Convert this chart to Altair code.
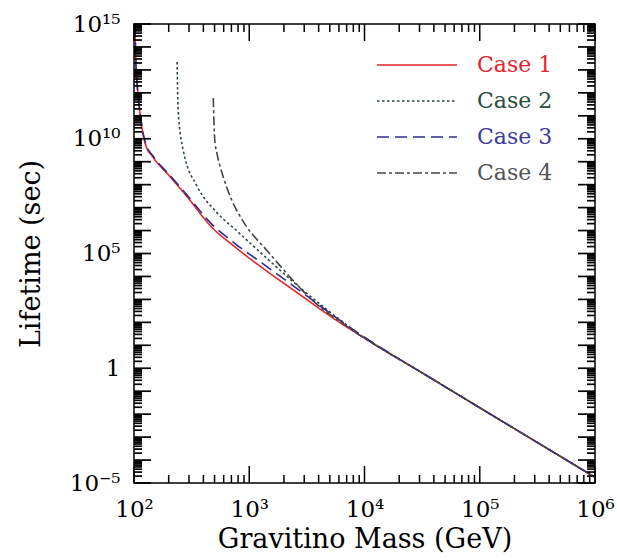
import altair as alt
import pandas as pd

# ---------------- data (log10 values) ----------------
cases = ["Case 1", "Case 2", "Case 3", "Case 4"]
line_colors = ["#e4262c", "#2d4a42", "#2e2e8e", "#454545"]
label_colors = ["#e4262c", "#2a4d40", "#3b3ba0", "#555555"]
dash_patterns = [[1, 0], [2.5, 2.5], [12, 6], [9, 3, 3, 3]]

case1_logm = [2.008, 2.015, 2.03, 2.05, 2.075, 2.10, 2.165, 2.313, 2.46, 2.67, 2.86, 3.12, 3.42, 3.70, 3.99, 4.5, 5.0, 6.0]
case1_logt = [15.0, 13.5, 12.2, 11.2, 10.3, 9.75, 9.2, 8.35, 7.48, 6.17, 5.35, 4.35, 3.28, 2.28, 1.34, -0.2, -1.72, -4.75]

case2_logm = [2.374, 2.383, 2.426, 2.55, 2.72, 2.90, 3.15, 3.42, 3.70, 3.95, 4.1, 4.5, 5.0, 6.0]
case2_logt = [13.35, 11.26, 9.52, 7.91, 6.78, 5.95, 4.80, 3.60, 2.45, 1.50, 1.0, -0.2, -1.72, -4.75]

case3_logm = [2.008, 2.015, 2.03, 2.05, 2.075, 2.10, 2.165, 2.313, 2.46, 2.67, 2.86, 3.12, 3.42, 3.70, 4.0, 4.5, 5.0, 6.0]
case3_logt = [15.0, 13.5, 12.2, 11.25, 10.35, 9.8, 9.25, 8.40, 7.55, 6.30, 5.50, 4.55, 3.45, 2.40, 1.35, -0.2, -1.72, -4.75]

case4_logm = [2.688, 2.70, 2.72, 2.75, 2.80, 2.85, 2.90, 2.98, 3.15, 3.27, 3.45, 3.62, 3.80, 3.94, 4.1, 4.5, 5.0, 6.0]
case4_logt = [11.77, 10.0, 9.35, 8.75, 7.95, 7.3, 6.8, 6.15, 5.15, 4.45, 3.45, 2.65, 2.0, 1.5, 1.0, -0.2, -1.72, -4.75]

x_label_exps = [2, 3, 4, 5, 6]
x_labels = ["10²", "10³", "10⁴", "10⁵", "10⁶"]
y_label_exps = [-5, 0, 5, 10, 15]
y_labels = ["10⁻⁵", "1", "10⁵", "10¹⁰", "10¹⁵"]

x_title = "Gravitino Mass (GeV)"
y_title = "Lifetime (sec)"

# ---------------- build tables ----------------
rows = []
for name, lm, lt in zip(cases,
                        [case1_logm, case2_logm, case3_logm, case4_logm],
                        [case1_logt, case2_logt, case3_logt, case4_logt]):
    for i, (a, b) in enumerate(zip(lm, lt)):
        rows.append({"case": name, "mass": 10 ** a, "tau": 10 ** b, "i": i})
df = pd.DataFrame(rows)

# log tick positions: decades (major) and 2..9 x 10^n (minor)
x_major = [10 ** n for n in range(2, 7)]
x_minor = [k * 10 ** n for n in range(2, 6) for k in range(2, 10)]
y_major = [10.0 ** n for n in range(-5, 16)]
y_minor = [k * 10.0 ** n for n in range(-5, 15) for k in range(2, 10)]

FONT = "DejaVu Serif"
MAJOR = 17
MINOR = 8


def label_expr(exps, labels):
    expr = "''"
    for e, l in reversed(list(zip(exps, labels))):
        expr = f"round(log(datum.value)/LN10) == {e} ? '{l}' : {expr}"
    return expr


color_expr = "'#000000'"
for c, col in reversed(list(zip(cases, label_colors))):
    color_expr = f"datum.label == '{c}' ? '{col}' : {color_expr}"

x_scale = alt.Scale(type="log", domain=[1e2, 1e6], nice=False)
y_scale = alt.Scale(type="log", domain=[1e-5, 1e15], nice=False)

label_style = dict(ticks=False, tickSize=0, grid=False, domain=False,
                   labelFlush=False, labelOverlap=False, labelBound=False,
                   labelFont=FONT, labelFontSize=23, labelColor="black",
                   titleFont=FONT, titleFontSize=27, titleFontWeight="normal",
                   titleColor="black")

x_axis_bottom = alt.Axis(orient="bottom", values=x_major,
                         labelExpr=label_expr(x_label_exps, x_labels),
                         labelPadding=15, titlePadding=5, **label_style)
y_axis_left = alt.Axis(orient="left", values=y_major,
                       labelExpr=label_expr(y_label_exps, y_labels),
                       labelPadding=14, titlePadding=24, **label_style)

legend = alt.Legend(
    title=None, orient="none", legendX=272, legendY=30,
    symbolType="M-4,0H4", symbolSize=400, symbolStrokeWidth=1.6,
    labelFont=FONT, labelFontSize=22, labelOffset=49, rowPadding=14,
    labelColor={"expr": color_expr}, padding=0,
)

lines = alt.Chart(df).mark_line(strokeWidth=1.6, clip=True, interpolate="monotone").encode(
    x=alt.X("mass:Q", scale=x_scale, axis=x_axis_bottom, title=x_title),
    y=alt.Y("tau:Q", scale=y_scale, axis=y_axis_left, title=y_title),
    color=alt.Color("case:N", scale=alt.Scale(domain=cases, range=line_colors), legend=legend),
    strokeDash=alt.StrokeDash("case:N", scale=alt.Scale(domain=cases, range=dash_patterns), legend=legend),
    order="i:Q",
)


# inward-pointing tick marks on all four sides, placed by the shared log scales
def x_ticks(values, length, top):
    d = pd.DataFrame({"v": values})
    if top:
        ends = dict(y=alt.value(0), y2=alt.value(length))
    else:
        ends = dict(y=alt.value("height"), y2=alt.value({"expr": f"height - {length}"}))
    return alt.Chart(d).mark_rule(color="black", strokeWidth=1.5).encode(
        x=alt.X("v:Q", scale=x_scale, axis=x_axis_bottom, title=x_title), **ends)


def y_ticks(values, length, right):
    d = pd.DataFrame({"v": values})
    if right:
        ends = dict(x=alt.value("width"), x2=alt.value({"expr": f"width - {length}"}))
    else:
        ends = dict(x=alt.value(0), x2=alt.value(length))
    return alt.Chart(d).mark_rule(color="black", strokeWidth=1.7).encode(
        y=alt.Y("v:Q", scale=y_scale, axis=y_axis_left, title=y_title), **ends)


tick_layers = [
    x_ticks(x_major, MAJOR, False), x_ticks(x_minor, MINOR, False),
    x_ticks(x_major, MAJOR, True), x_ticks(x_minor, MINOR, True),
    y_ticks(y_major, MAJOR, False), y_ticks(y_minor, MINOR, False),
    y_ticks(y_major, MAJOR, True), y_ticks(y_minor, MINOR, True),
]

chart = alt.layer(lines, *tick_layers).properties(
    width=461, height=459,
    padding={"left": 134, "top": 24, "right": 22, "bottom": 77},
    autosize=alt.AutoSizeParams(type="none"),
    background="white",
).configure_view(stroke="black", strokeWidth=1.5)

chart.save("out.html", embed_options={"renderer": "svg", "actions": False})
